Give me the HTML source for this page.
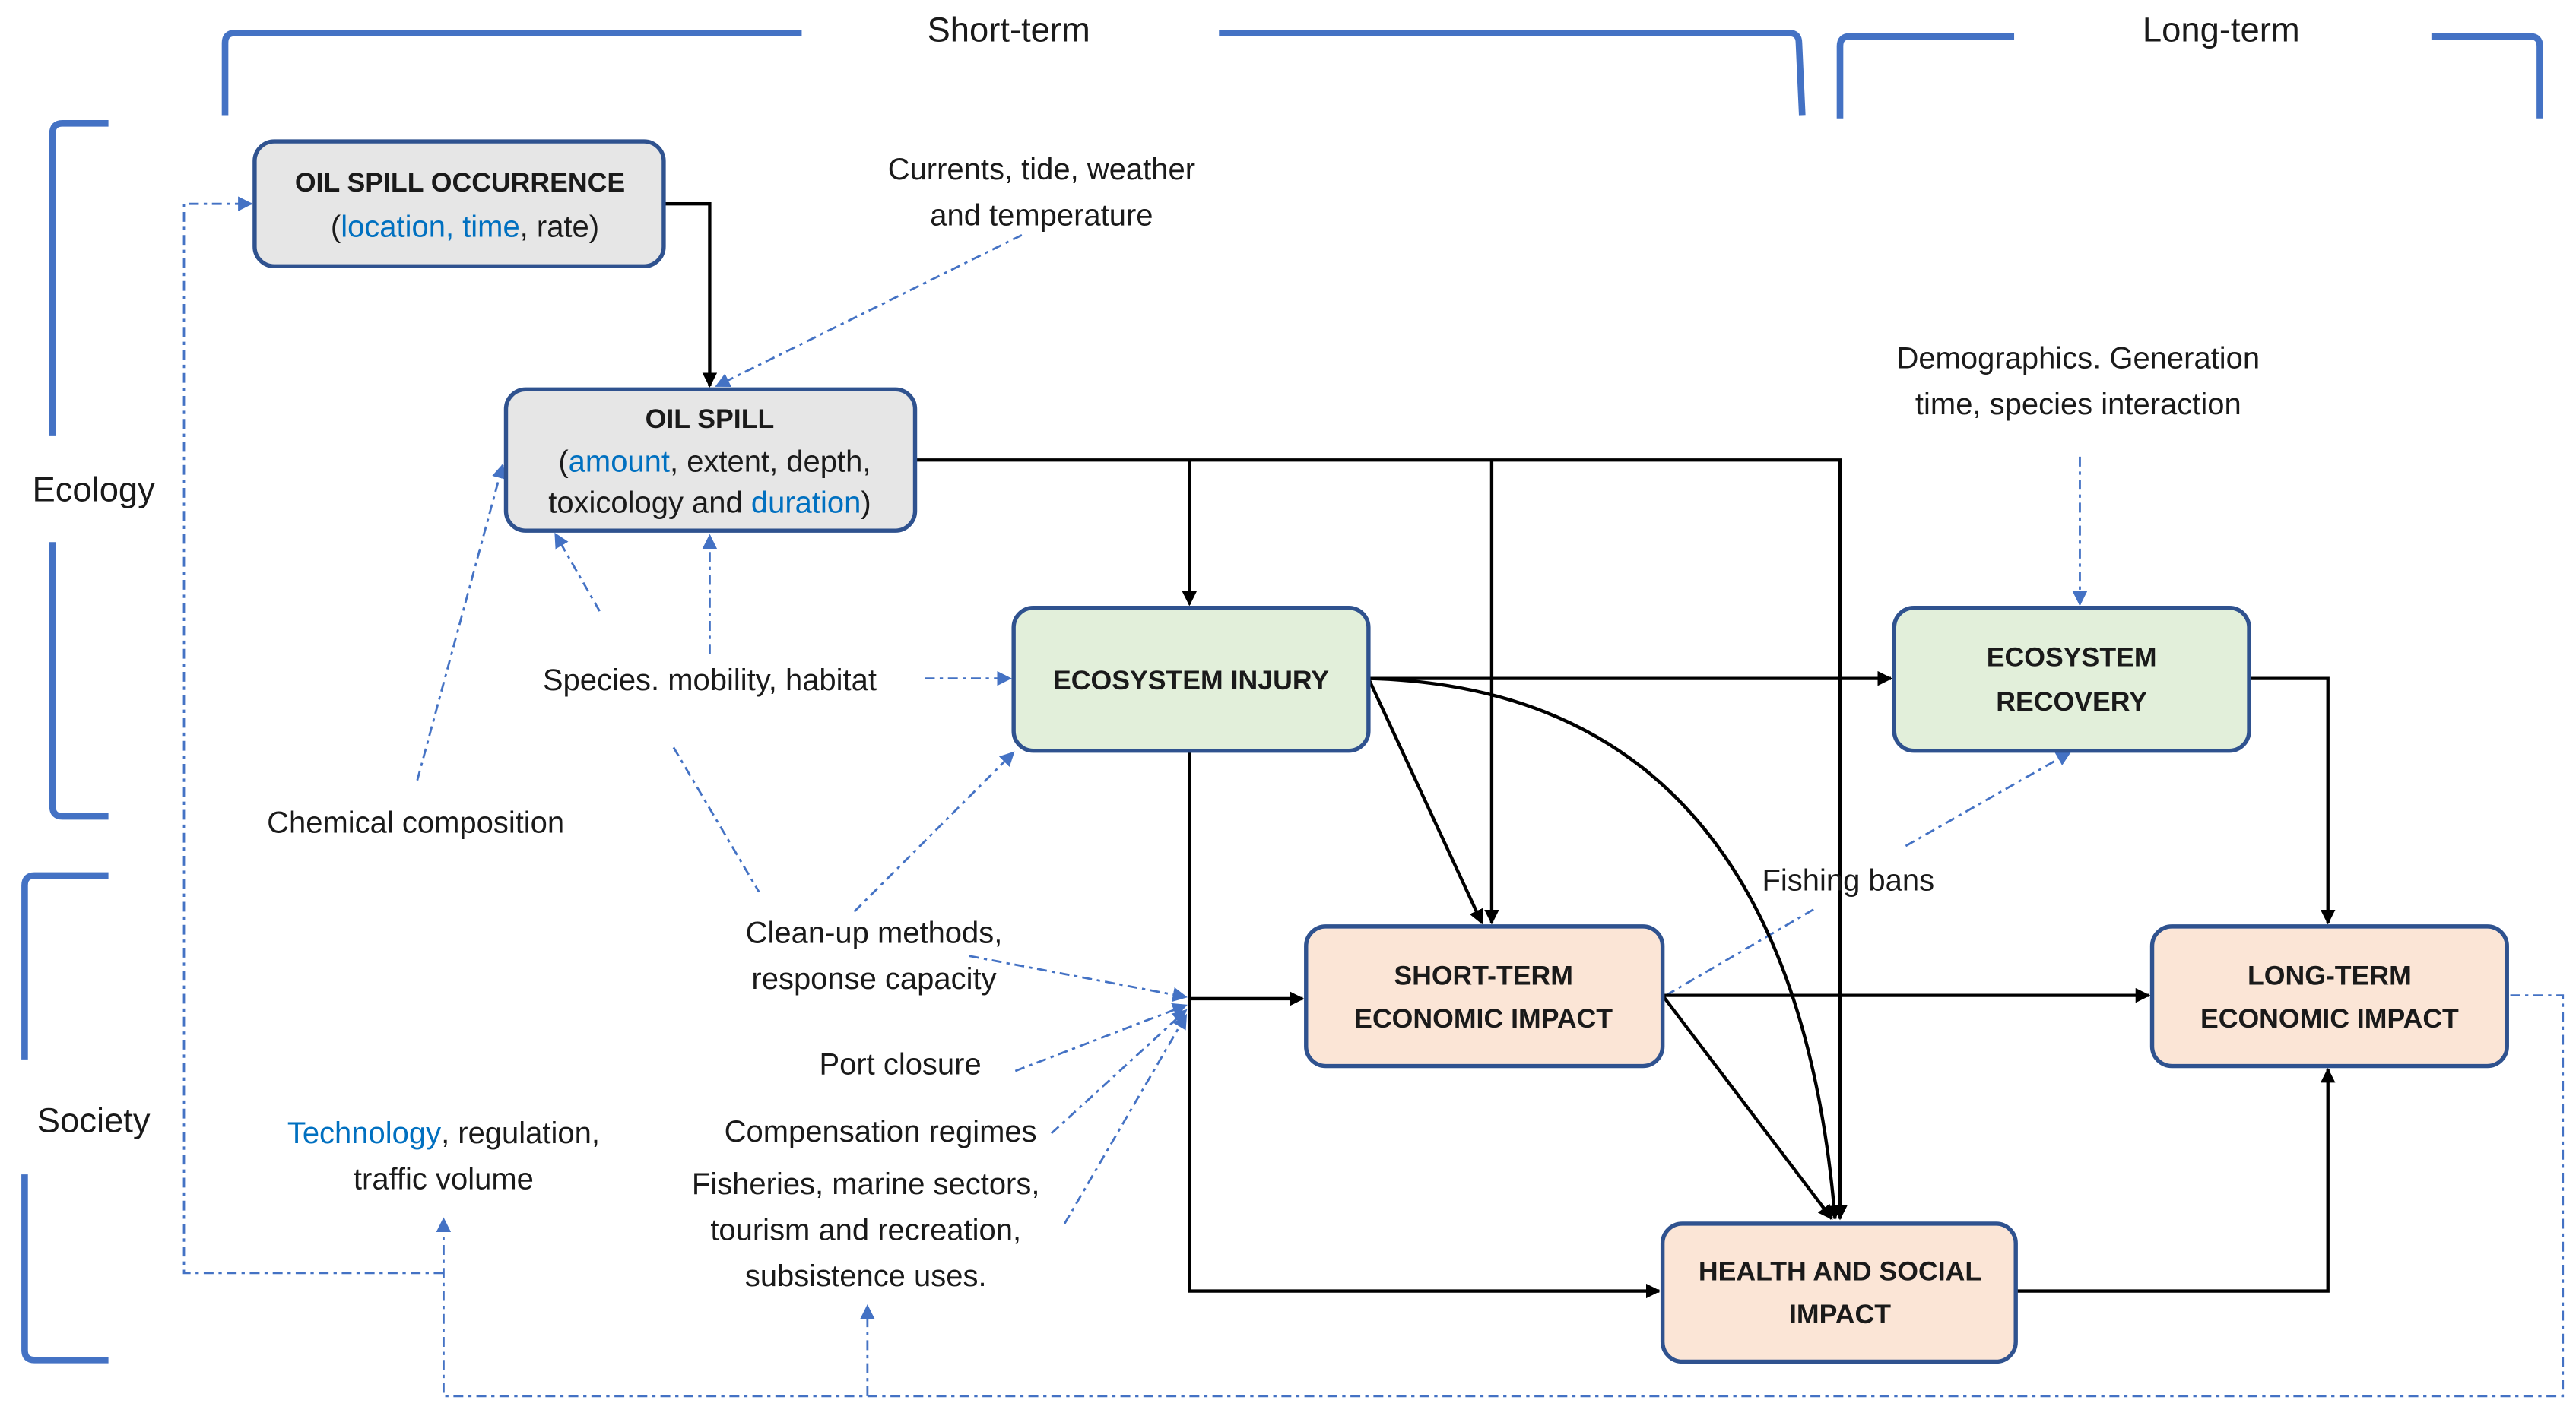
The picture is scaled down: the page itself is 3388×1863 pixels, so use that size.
<!DOCTYPE html>
<html><head><meta charset="utf-8"><style>
html,body{margin:0;padding:0;background:#fff;}
svg{display:block;}
text{font-family:"Liberation Sans",sans-serif;fill:#1a1a1a;}
.l{font-size:18.5px;}
.b{font-size:16.5px;font-weight:bold;}
.h{font-size:21px;}
.bl{fill:#0070c0;}
</style></head><body>
<svg width="3388" height="1863" viewBox="0 0 1568 862" xmlns="http://www.w3.org/2000/svg">
<defs>
<marker id="a" viewBox="0 0 10 10" refX="9" refY="5" markerWidth="9" markerHeight="9" orient="auto-start-reverse" markerUnits="userSpaceOnUse"><path d="M0,0L10,5L0,10z" fill="#000"/></marker>
<marker id="c" viewBox="0 0 10 10" refX="9" refY="5" markerWidth="9" markerHeight="9" orient="auto-start-reverse" markerUnits="userSpaceOnUse"><path d="M0,0L10,5L0,10z" fill="#4472C4"/></marker>
</defs>
<g fill="none" stroke="#4472C4" stroke-width="4" stroke-linejoin="round">
<path d="M137,70 L137,26 Q137,20 143,20 L488,20"/><path d="M742,20 L1089,20 Q1095,20 1095,26 L1097,70"/>
<path d="M1120,72 L1120,28 Q1120,22 1126,22 L1226,22"/><path d="M1480,22 L1540,22 Q1546,22 1546,28 L1546,72"/>
<path d="M66,75 L38,75 Q32,75 32,81 L32,265"/><path d="M32,330 L32,491 Q32,497 38,497 L66,497"/>
<path d="M66,533 L21,533 Q15,533 15,539 L15,645"/><path d="M15,715 L15,822 Q15,828 21,828 L66,828"/>
</g>
<text class="h" x="614" y="18" text-anchor="middle" dominant-baseline="central">Short-term</text>
<text class="h" x="1352" y="18" text-anchor="middle" dominant-baseline="central">Long-term</text>
<text class="h" x="57" y="298" text-anchor="middle" dominant-baseline="central">Ecology</text>
<text class="h" x="57" y="682" text-anchor="middle" dominant-baseline="central">Society</text>
<g fill="none" stroke="#4472C4" stroke-width="1.3" stroke-dasharray="6,3,2,3">
<path d="M622,143 L436,235" marker-end="url(#c)"/>
<path d="M1266,278 L1266,368" marker-end="url(#c)"/>
<path d="M432,398 L432,326" marker-end="url(#c)"/>
<path d="M365,372 L338,325" marker-end="url(#c)"/>
<path d="M563,413 L615,413" marker-end="url(#c)"/>
<path d="M254,475 L306,283" marker-end="url(#c)"/>
<path d="M410,455 L462,543"/>
<path d="M520,555 L617,458" marker-end="url(#c)"/>
<path d="M590,582 L722,607" marker-end="url(#c)"/>
<path d="M618,652 L722,612" marker-end="url(#c)"/>
<path d="M640,690 L722,615" marker-end="url(#c)"/>
<path d="M648,745 L722,618" marker-end="url(#c)"/>
<path d="M1160,515 L1260,458" marker-end="url(#c)"/>
<path d="M1014,606 L1105,553"/>
<path d="M270,775 L112,775 L112,124 L153,124" marker-end="url(#c)"/>
<path d="M1528,606 L1560,606 L1560,850 L270,850 L270,742" marker-end="url(#c)"/>
<path d="M528,850 L528,795" marker-end="url(#c)"/>
</g>
<g fill="none" stroke="#000" stroke-width="2">
<path d="M404,124 L432,124 L432,235" marker-end="url(#a)"/>
<path d="M557,280 L1120,280 L1120,742" marker-end="url(#a)"/>
<path d="M724,280 L724,368" marker-end="url(#a)"/>
<path d="M908,280 L908,562" marker-end="url(#a)"/>
<path d="M833,413 L1151,413" marker-end="url(#a)"/>
<path d="M833,413 L902,562" marker-end="url(#a)"/>
<path d="M833,413 Q1090,420 1117,742" marker-end="url(#a)"/>
<path d="M724,457 L724,786 L1010,786" marker-end="url(#a)"/>
<path d="M724,608 L793,608" marker-end="url(#a)"/>
<path d="M1012,606 L1308,606" marker-end="url(#a)"/>
<path d="M1012,606 L1115,742" marker-end="url(#a)"/>
<path d="M1369,413 L1417,413 L1417,562" marker-end="url(#a)"/>
<path d="M1227,786 L1417,786 L1417,651" marker-end="url(#a)"/>
</g>
<g stroke="#2F528F" stroke-width="2.5">
<rect x="155" y="86" width="249" height="76" rx="12" fill="#e6e6e6"/>
<rect x="308" y="237" width="249" height="86" rx="12" fill="#e6e6e6"/>
<rect x="617" y="370" width="216" height="87" rx="12" fill="#e2efda"/>
<rect x="1153" y="370" width="216" height="87" rx="12" fill="#e2efda"/>
<rect x="795" y="564" width="217" height="85" rx="12" fill="#fbe5d6"/>
<rect x="1310" y="564" width="216" height="85" rx="12" fill="#fbe5d6"/>
<rect x="1012" y="745" width="215" height="84" rx="12" fill="#fbe5d6"/>
</g>
<g text-anchor="middle" dominant-baseline="central">
<text class="b" x="280" y="111">OIL SPILL OCCURRENCE</text>
<text class="l" x="283" y="138">(<tspan class="bl">location, time</tspan>, rate)</text>
<text class="b" x="432" y="255">OIL SPILL</text>
<text class="l" x="435" y="281">(<tspan class="bl">amount</tspan>, extent, depth,</text>
<text class="l" x="432" y="306">toxicology and <tspan class="bl">duration</tspan>)</text>
<text class="b" x="725" y="414">ECOSYSTEM INJURY</text>
<text class="b" x="1261" y="400">ECOSYSTEM</text>
<text class="b" x="1261" y="427">RECOVERY</text>
<text class="b" x="903" y="594">SHORT-TERM</text>
<text class="b" x="903" y="620">ECONOMIC IMPACT</text>
<text class="b" x="1418" y="594">LONG-TERM</text>
<text class="b" x="1418" y="620">ECONOMIC IMPACT</text>
<text class="b" x="1120" y="774">HEALTH AND SOCIAL</text>
<text class="b" x="1120" y="800">IMPACT</text>
<text class="l" x="634" y="103">Currents, tide, weather</text>
<text class="l" x="634" y="131">and temperature</text>
<text class="l" x="1265" y="218">Demographics. Generation</text>
<text class="l" x="1265" y="246">time, species interaction</text>
<text class="l" x="432" y="414">Species. mobility, habitat</text>
<text class="l" x="253" y="501">Chemical composition</text>
<text class="l" x="532" y="568">Clean-up methods,</text>
<text class="l" x="532" y="596">response capacity</text>
<text class="l" x="548" y="648">Port closure</text>
<text class="l" x="536" y="689">Compensation regimes</text>
<text class="l" x="527" y="721">Fisheries, marine sectors,</text>
<text class="l" x="527" y="749">tourism and recreation,</text>
<text class="l" x="527" y="777">subsistence uses.</text>
<text class="l" x="270" y="690"><tspan class="bl">Technology</tspan>, regulation,</text>
<text class="l" x="270" y="718">traffic volume</text>
<text class="l" x="1125" y="536">Fishing bans</text>
</g>
</svg>
</body></html>
